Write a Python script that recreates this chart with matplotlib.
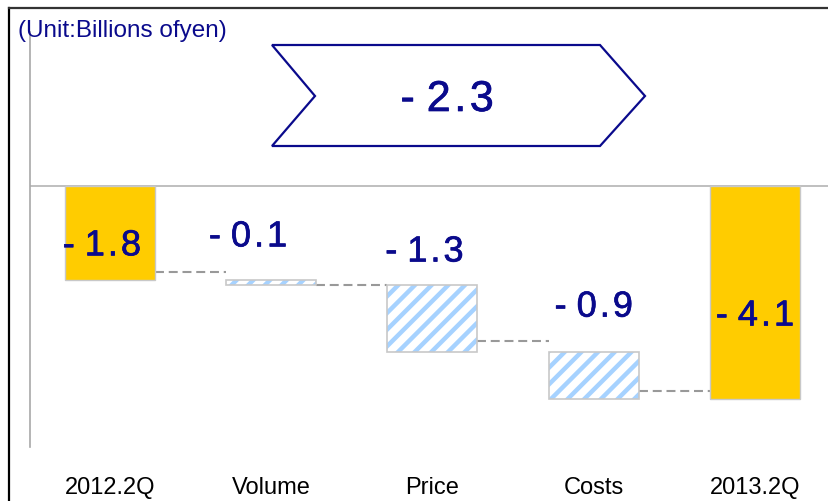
import matplotlib
matplotlib.use("Agg")
import matplotlib.pyplot as plt
from matplotlib.patches import Polygon
from matplotlib.lines import Line2D
import matplotlib.patheffects as pe

# ---- data ----
categories = ["2012.2Q", "Volume", "Price", "Costs", "2013.2Q"]
start_value = -1.8
deltas = [-0.1, -1.3, -0.9]
end_value = -4.1
connector_levels = [-1.65, -1.90, -2.99, -3.95]
unit_text = "(Unit:Billions ofyen)"

# ---- style ----
NAVY = "#0A0A8C"
GOLD = "#FFCC00"
EDGE = "#C8C8C8"
HATCH_BLUE = "#A6D2FF"
DASH = "#999999"

plt.rcParams["font.family"] = ["Liberation Sans", "DejaVu Sans"]
plt.rcParams["hatch.linewidth"] = 3.2

W, H = 829, 502
fig = plt.figure(figsize=(W / 100, H / 100), dpi=100)

def fx(px):
    return px / W

def fy(py):
    return 1 - py / H

ax = fig.add_axes([fx(30), fy(448), fx(829) - fx(30), fy(33) - fy(448)])
ax.set_xlim(-0.496, 4.459)
ax.set_ylim(-5.02, 2.96)

x = list(range(len(categories)))
bw = 0.558

# waterfall geometry
tops = []
bottoms = []
level = start_value
for d in deltas:
    tops.append(level)
    bottoms.append(level + d)
    level += d

# endpoint bars
ax.bar([x[0], x[-1]], [start_value, end_value], width=bw, color=GOLD,
       edgecolor=EDGE, linewidth=1.0, zorder=2)

# delta bars (hatched)
heights = [b - t for t, b in zip(tops, bottoms)]
ax.bar(x[1:-1], heights, bottom=tops, width=bw, color="white",
       edgecolor=HATCH_BLUE, hatch="//", linewidth=0, zorder=2)
ax.bar(x[1:-1], heights, bottom=tops, width=bw, fill=False,
       edgecolor=EDGE, linewidth=1.2, zorder=3)

# connectors
for i, lv in enumerate(connector_levels):
    ax.hlines(lv, x[i] + bw / 2, x[i + 1] - bw / 2, colors=DASH,
              linewidth=1.5, linestyles=(0, (4.3, 2.3)), zorder=1)

# zero line
ax.axhline(0, color="#B4B4B4", linewidth=1.2, zorder=1)

# labels
HS = "\u200a"

def fmt(v):
    s = f"{abs(v):.1f}"
    s = HS.join(s)
    return "- " + s if v < 0 else s

bold_fx = [pe.withStroke(linewidth=0.5, foreground=NAVY)]

ax.text(x[0] - 0.05, start_value * 0.64, fmt(start_value), ha="center",
        va="center", fontsize=26, color=NAVY, zorder=4, path_effects=bold_fx)
ax.text(x[-1], end_value * 0.61, fmt(end_value), ha="center",
        va="center", fontsize=26, color=NAVY, zorder=4, path_effects=bold_fx)
label_dx = [-0.144, -0.05, 0.0]
label_dy = [0.82, 0.63, 0.87]
for i, d in enumerate(deltas):
    ax.text(x[i + 1] + label_dx[i], tops[i] + label_dy[i], fmt(d),
            ha="center", va="center", fontsize=26, color=NAVY, zorder=4,
            path_effects=bold_fx)

# axes styling
for s in ["top", "right", "bottom"]:
    ax.spines[s].set_visible(False)
ax.spines["left"].set_color("#A8A8A8")
ax.spines["left"].set_linewidth(1.2)
ax.set_yticks([])
ax.set_xticks(x)
ax.set_xticklabels(categories, fontsize=17, color="black")
ax.tick_params(axis="x", length=0, pad=21)

# unit text
fig.text(fx(18), fy(31), unit_text, ha="left", va="center", fontsize=17.5,
         color=NAVY)

# total change chevron
total = end_value - start_value
chev = [(272, 46), (600, 46), (645, 97), (600, 147), (272, 147), (315, 97)]
poly = Polygon([(fx(a), fy(b)) for a, b in chev], closed=True,
               transform=fig.transFigure, facecolor="white", edgecolor=NAVY,
               linewidth=1.6)
fig.add_artist(poly)
fig.text(fx(447), fy(101), fmt(total), ha="center", va="center",
         fontsize=31, color=NAVY, path_effects=bold_fx)

# frame
fig.add_artist(Line2D([fx(9), fx(9)], [fy(9), 0], transform=fig.transFigure,
                      color="black", linewidth=1.6))
fig.add_artist(Line2D([fx(9), 1], [fy(9), fy(9)], transform=fig.transFigure,
                      color="#333333", linewidth=1.6))

fig.savefig("out.png", dpi=100)
